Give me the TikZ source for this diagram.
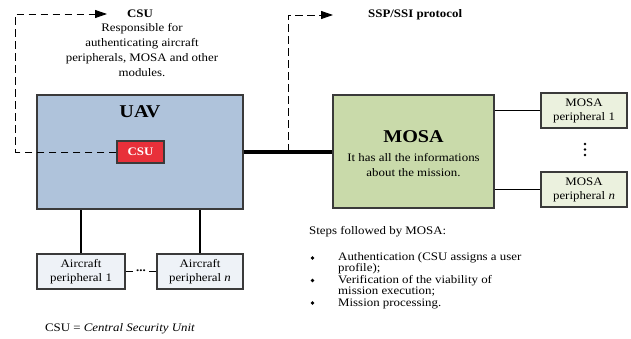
\documentclass[tikz,border=0pt]{standalone}
\usepackage{fontspec}
\usepackage{graphicx}
\setmainfont{Liberation Serif}
\usetikzlibrary{arrows.meta}
\definecolor{uavfill}{HTML}{AFC3DB}
\definecolor{csufill}{HTML}{E8303A}
\definecolor{mosafill}{HTML}{C9DAAA}
\definecolor{mpfill}{HTML}{EBF1DE}
\definecolor{apfill}{HTML}{EEF2F7}
\definecolor{edge}{HTML}{3A3A3A}
\newcommand{\sx}[1]{\scalebox{1.12}[1]{#1}}
\newcommand{\sxl}[2][c]{\scalebox{1.12}[1]{\begin{tabular}{@{}#1@{}}#2\end{tabular}}}
\tikzset{
  box/.style={draw=edge, line width=1.1pt, rectangle, inner sep=0pt, align=center, font=\fontsize{11.5}{14.5}\selectfont},
  conn/.style={line width=1.4pt, black},
  dashconn/.style={line width=0.9pt, dash pattern=on 7.5pt off 4.5pt},
  tip/.style={-{Triangle[length=12pt,width=8pt]}},
  txt/.style={inner sep=0pt, font=\fontsize{11.5}{15}\selectfont},
  dot/.style={circle, fill=black, inner sep=0pt, minimum size=2.6pt},
  bullet/.style={circle, fill=black, inner sep=0pt, minimum size=3.6pt}
}
\begin{document}
\begin{tikzpicture}[x=1pt,y=-1pt]
\useasboundingbox (0,0) rectangle (631,339);

% main boxes
\node[box, fill=uavfill, minimum width=206pt, minimum height=114pt] (uav) at (140,152) {};
\node[txt, font=\fontsize{18}{20}\selectfont\bfseries] (uavlbl) at (140,112) {\sx{UAV}};
\node[box, fill=csufill, minimum width=47pt, minimum height=22pt, text=white, font=\fontsize{11.5}{14}\selectfont\bfseries] (csu) at (140.5,152) {\sx{CSU}};

\node[box, fill=mosafill, minimum width=161pt, minimum height=113pt] (mosa) at (413.5,151.5) {};
\node[txt, font=\fontsize{18}{20}\selectfont\bfseries] (mosalbl) at (413.5,137) {\sx{MOSA}};
\node[txt] (mosadesc) at (413.5,165.5) {\sxl{It has all the informations\\about the mission.}};

\node[box, fill=mpfill, minimum width=86pt, minimum height=35pt] (mp1) at (584,110.5) {\sxl{MOSA\\peripheral 1}};
\node[box, fill=mpfill, minimum width=86pt, minimum height=35pt] (mpn) at (584,189.5) {\sxl{MOSA\\peripheral \textit{n}}};
\node[dot] (vd1) at (585,144) {};
\node[dot] (vd2) at (585,149.5) {};
\node[dot] (vd3) at (585,155) {};

\node[box, fill=apfill, minimum width=88pt, minimum height=35pt] (ap1) at (81,271.5) {\sxl{Aircraft\\peripheral 1}};
\node[box, fill=apfill, minimum width=86pt, minimum height=35pt] (apn) at (200,271.5) {\sxl{Aircraft\\peripheral \textit{n}}};
\node[txt, font=\fontsize{11.5}{14}\selectfont\bfseries, inner xsep=3pt] (apdots) at (141,271) {\sx{...}};

% connectors
\draw[line width=4pt] (uav.east) -- (uav.east -| mosa.west);
\draw[conn] (mosa.east |- mp1.west) -- (mp1.west);
\draw[conn] (mosa.east |- mpn.west) -- (mpn.west);
\draw[conn] (ap1.north) -- (ap1.north |- uav.south);
\draw[conn] (apn.north) -- (apn.north |- uav.south);
\draw[line width=1pt] (ap1.east) -- (apdots.west |- ap1.east);
\draw[line width=1pt] (apdots.east |- apn.west) -- (apn.west);

% dashed feedback lines
\coordinate (c1) at (15.5,152);
\coordinate (c2) at (15.5,14);
\coordinate (c3) at (107,14);
\draw[dashconn, tip] (csu.west) -- (c1) -- (c2) -- (c3);

\coordinate (s0) at (288,152);
\coordinate (s1) at (288,15);
\coordinate (s2) at (333,15);
\draw[dashconn, tip] (s0) -- (s1) -- (s2);

% texts
\node[txt, font=\fontsize{11.5}{14}\selectfont\bfseries] (csutitle) at (140,14) {\sx{CSU}};
\node[txt] (csudesc) at (142,51.5) {\sxl{Responsible for\\authenticating aircraft\\peripherals, MOSA and other\\modules.}};
\node[txt, anchor=west, font=\fontsize{11.5}{14}\selectfont\bfseries] (ssp) at (368,15) {\sx{SSP/SSI protocol}};

\node[txt, anchor=west] (steps) at (309,232) {\sx{Steps followed by MOSA:}};
\node[bullet] (b1) at (312.5,258) {};
\node[bullet] (b2) at (312.5,280.5) {};
\node[bullet] (b3) at (312.5,303) {};
\node[txt, anchor=west, font=\fontsize{11.5}{11.4}\selectfont] (items) at (338,281) {\sxl[l]{Authentication (CSU assigns a user\\profile);\\Verification of the viability of\\mission execution;\\Mission processing.}};

\node[txt] (legend) at (120,329) {\sx{CSU = \textit{Central Security Unit}}};
\end{tikzpicture}
\end{document}
